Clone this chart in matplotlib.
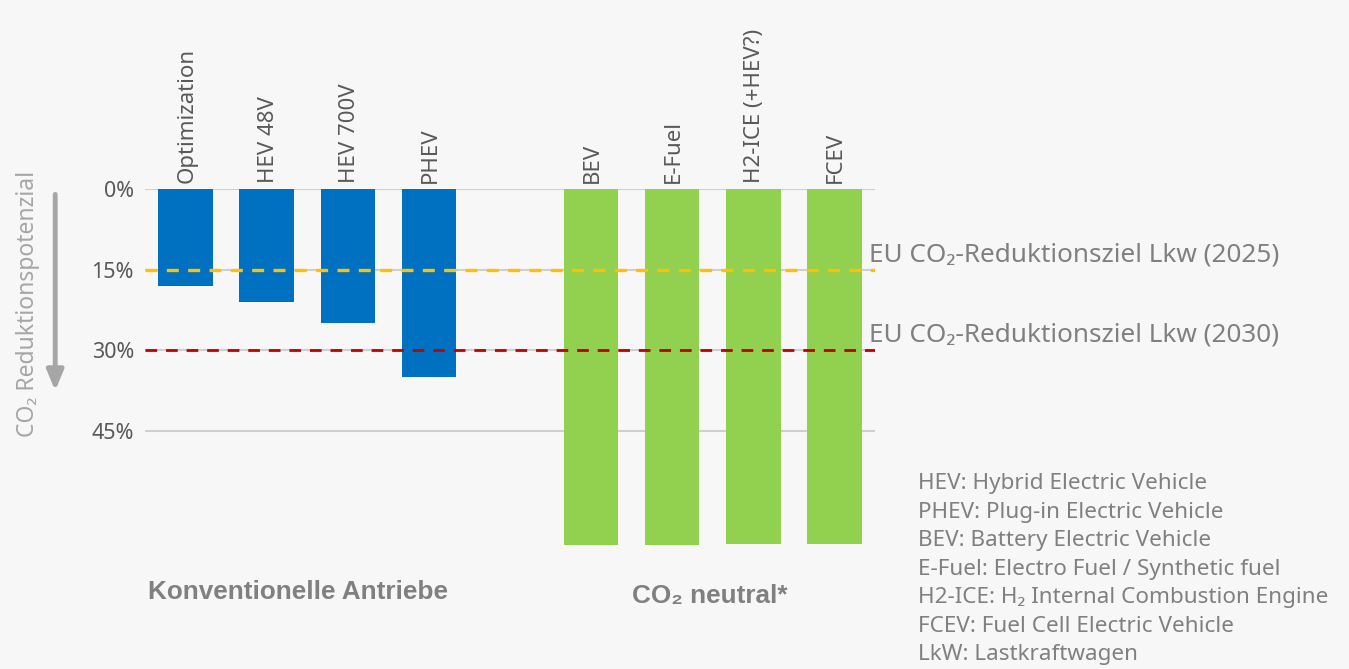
"""
CO2 reduction potential of powertrain options for trucks.
"""
import matplotlib
import matplotlib.pyplot as plt

matplotlib.use('agg')

conv_labels = ['Optimization', 'HEV 48V', 'HEV 700V', 'PHEV']
conv_values = [18.0, 21.0, 24.9, 35.0]
neutral_labels = ['BEV', 'E-Fuel', 'H2-ICE (+HEV?)', 'FCEV']
neutral_values = [66.2, 66.2, 66.0, 66.0]
y_ticks = [0, 15, 30, 45]
y_tick_labels = ['0%', '15%', '30%', '45%']
target_2025 = 15
target_2030 = 30
glossary = [
    'HEV: Hybrid Electric Vehicle',
    'PHEV: Plug-in Electric Vehicle',
    'BEV: Battery Electric Vehicle',
    'E-Fuel: Electro Fuel / Synthetic fuel',
    'H2-ICE: H\u2082 Internal Combustion Engine',
    'FCEV: Fuel Cell Electric Vehicle',
    'LkW: Lastkraftwagen',
]

FONT = ['Noto Sans', 'DejaVu Sans']
BG = '#f7f7f7'
DARK = '#595959'
GREY = '#808080'

plt.rcParams['font.family'] = FONT

W, H = 1349, 669
fig = plt.figure(figsize=(W / 100, H / 100), dpi=100, facecolor=BG)
# axes placed in pixel terms: x from 145 to 875, y=0 at 189 px, 5.378 px per %
y_max = 82
px_per = 5.378
ax_bottom = 189 + y_max * px_per
ax = fig.add_axes([145 / W, 1 - ax_bottom / H, 730 / W, (ax_bottom - 189) / H])
ax.set_facecolor(BG)

conv_x = list(range(len(conv_labels)))
neutral_x = [len(conv_labels) + 1 + i for i in range(len(neutral_labels))]

ax.bar(conv_x, conv_values, width=0.67, color='#0070c0', zorder=2)
ax.bar(neutral_x, neutral_values, width=0.67, color='#92d050', zorder=2)

ax.set_xlim(-0.5, 8.5)
ax.set_ylim(y_max, 0)
ax.set_yticks(y_ticks)
ax.set_yticklabels(y_tick_labels, fontsize=15.5, color=DARK)
ax.set_xticks([])
ax.tick_params(axis='y', length=0, pad=8)
for s in ax.spines.values():
    s.set_visible(False)
for t in y_ticks:
    ax.axhline(t, color='#cfcfcf', lw=1.5, zorder=1)

# target lines
ax.axhline(target_2025, color='#ffc000', lw=2.4, linestyle=(0, (3.6, 2.8)), zorder=3)
ax.axhline(target_2030, color='#c00000', lw=2.0, linestyle=(0, (4.2, 3.2)), zorder=3)
ax.text(8.43, target_2025 - 1.6, 'EU CO\u2082-Reduktionsziel Lkw (2025)',
        fontsize=18.8, color=GREY, va='baseline', ha='left', clip_on=False)
ax.text(8.43, target_2030 - 1.6, 'EU CO\u2082-Reduktionsziel Lkw (2030)',
        fontsize=18.8, color=GREY, va='baseline', ha='left', clip_on=False)

# category labels above the bars
for x, lab in zip(conv_x + neutral_x, conv_labels + neutral_labels):
    ax.annotate(lab, (x, 0), xytext=(1, 4), textcoords='offset points',
                rotation=90, ha='center', va='bottom', fontsize=16,
                color=DARK, annotation_clip=False)

# y axis title and arrow
ax.text(-0.16, 21.4, 'CO\u2082 Reduktionspotenzial', transform=ax.get_yaxis_transform(),
        rotation=90, ha='center', va='center', fontsize=16.5, color='#a6a6a6')
ax.annotate('', xy=(-0.123, 37.5), xytext=(-0.123, 1.0),
            xycoords=ax.get_yaxis_transform(), textcoords=ax.get_yaxis_transform(),
            arrowprops=dict(arrowstyle='-|>,head_length=1.2,head_width=0.5',
                            color='#a6a6a6', lw=3.5, shrinkA=0, shrinkB=0),
            annotation_clip=False)

# group labels
group_font = ['Liberation Sans', 'DejaVu Sans']
ax.text(1.39, 75.0, 'Konventionelle Antriebe', ha='center', va='center',
        fontsize=18.8, fontweight='bold', color=GREY, family=group_font)
ax.text(6.46, 75.6, 'CO\u2082 neutral*', ha='center', va='center',
        fontsize=18.8, fontweight='bold', color=GREY, family=group_font)

fig.text(918 / W, 1 - 473 / H, '\n'.join(glossary), ha='left', va='top',
         fontsize=16.2, color=GREY, linespacing=1.47)

fig.savefig('out.png', dpi=100, facecolor=BG)
